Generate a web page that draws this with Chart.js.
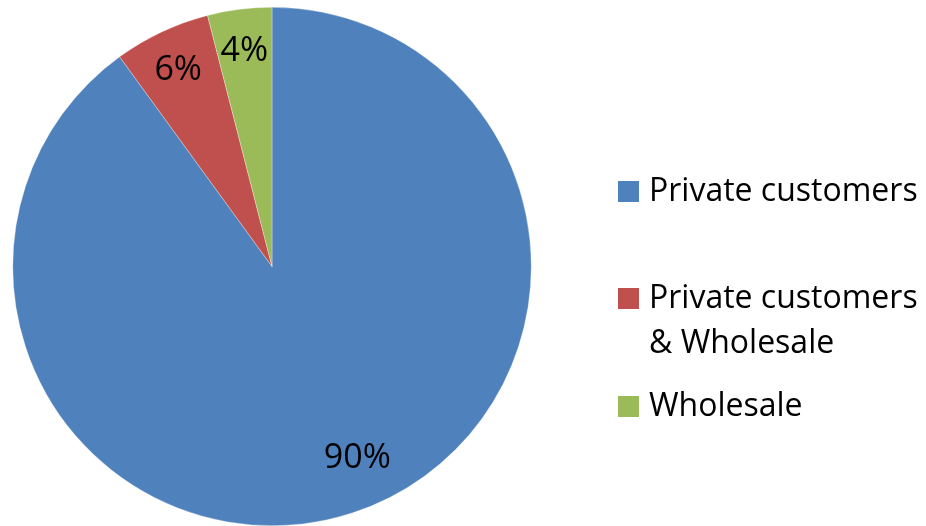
<!DOCTYPE html>
<html>
<head>
<meta charset="utf-8">
<script src="https://cdn.jsdelivr.net/npm/chart.js@4"></script>
<style>
html,body{margin:0;padding:0;background:#fff;}
#wrap{width:926px;height:526px;position:relative;}
</style>
</head>
<body>
<div id="wrap"><canvas id="c" width="926" height="526"></canvas></div>
<script>
const categories = [["Private customers"], ["Private customers", "& Wholesale"], ["Wholesale"]];
const shareValues = [90, 6, 4];
const percentLabels = ["90%", "6%", "4%"];
const sliceColors = ["#4F81BD", "#C0504D", "#9BBB59"];

const FONT = "'Open Sans', Lato, sans-serif";

const sliceLabels = {
  id: 'sliceLabels',
  afterDatasetsDraw(chart) {
    const ctx = chart.ctx;
    const meta = chart.getDatasetMeta(0);
    ctx.save();
    ctx.font = "34px " + FONT;
    ctx.fillStyle = "#000";
    ctx.textAlign = "center";
    ctx.textBaseline = "middle";
    meta.data.forEach((arc, i) => {
      const p = arc.getProps(['x','y','startAngle','endAngle','outerRadius'], true);
      const mid = (p.startAngle + p.endAngle) / 2 - (i === 0 ? 0.11 : 0);
      const f = i === 0 ? 0.8 : 0.85;
      const x = p.x + Math.cos(mid) * p.outerRadius * f;
      const y = p.y + Math.sin(mid) * p.outerRadius * f + 3;
      ctx.fillText(percentLabels[i], x, y);
    });
    ctx.restore();
  }
};

const sideLegend = {
  id: 'sideLegend',
  afterDraw(chart) {
    const ctx = chart.ctx;
    const tops = [181, 288, 396];
    ctx.save();
    ctx.font = "32px " + FONT;
    ctx.textBaseline = "alphabetic";
    ctx.textAlign = "left";
    chart.data.labels.forEach((lab, i) => {
      ctx.fillStyle = chart.data.datasets[0].backgroundColor[i];
      ctx.fillRect(618, tops[i], 21, 21);
      ctx.fillStyle = "#000";
      const lines = Array.isArray(lab) ? lab : [lab];
      lines.forEach((ln, j) => {
        ctx.fillText(ln, 649, tops[i] + 20 + j * 45);
      });
    });
    ctx.restore();
  }
};

new Chart(document.getElementById('c'), {
  type: 'pie',
  data: {
    labels: categories,
    datasets: [{
      data: shareValues,
      backgroundColor: sliceColors,
      borderColor: "rgba(255,255,255,0.6)",
      borderWidth: 0.5
    }]
  },
  options: {
    responsive: false,
    animation: false,
    layout: { padding: { left: 12, top: 7, right: 394, bottom: 0 } },
    plugins: {
      legend: { display: false },
      tooltip: { enabled: false }
    }
  },
  plugins: [sliceLabels, sideLegend]
});
</script>
</body>
</html>
